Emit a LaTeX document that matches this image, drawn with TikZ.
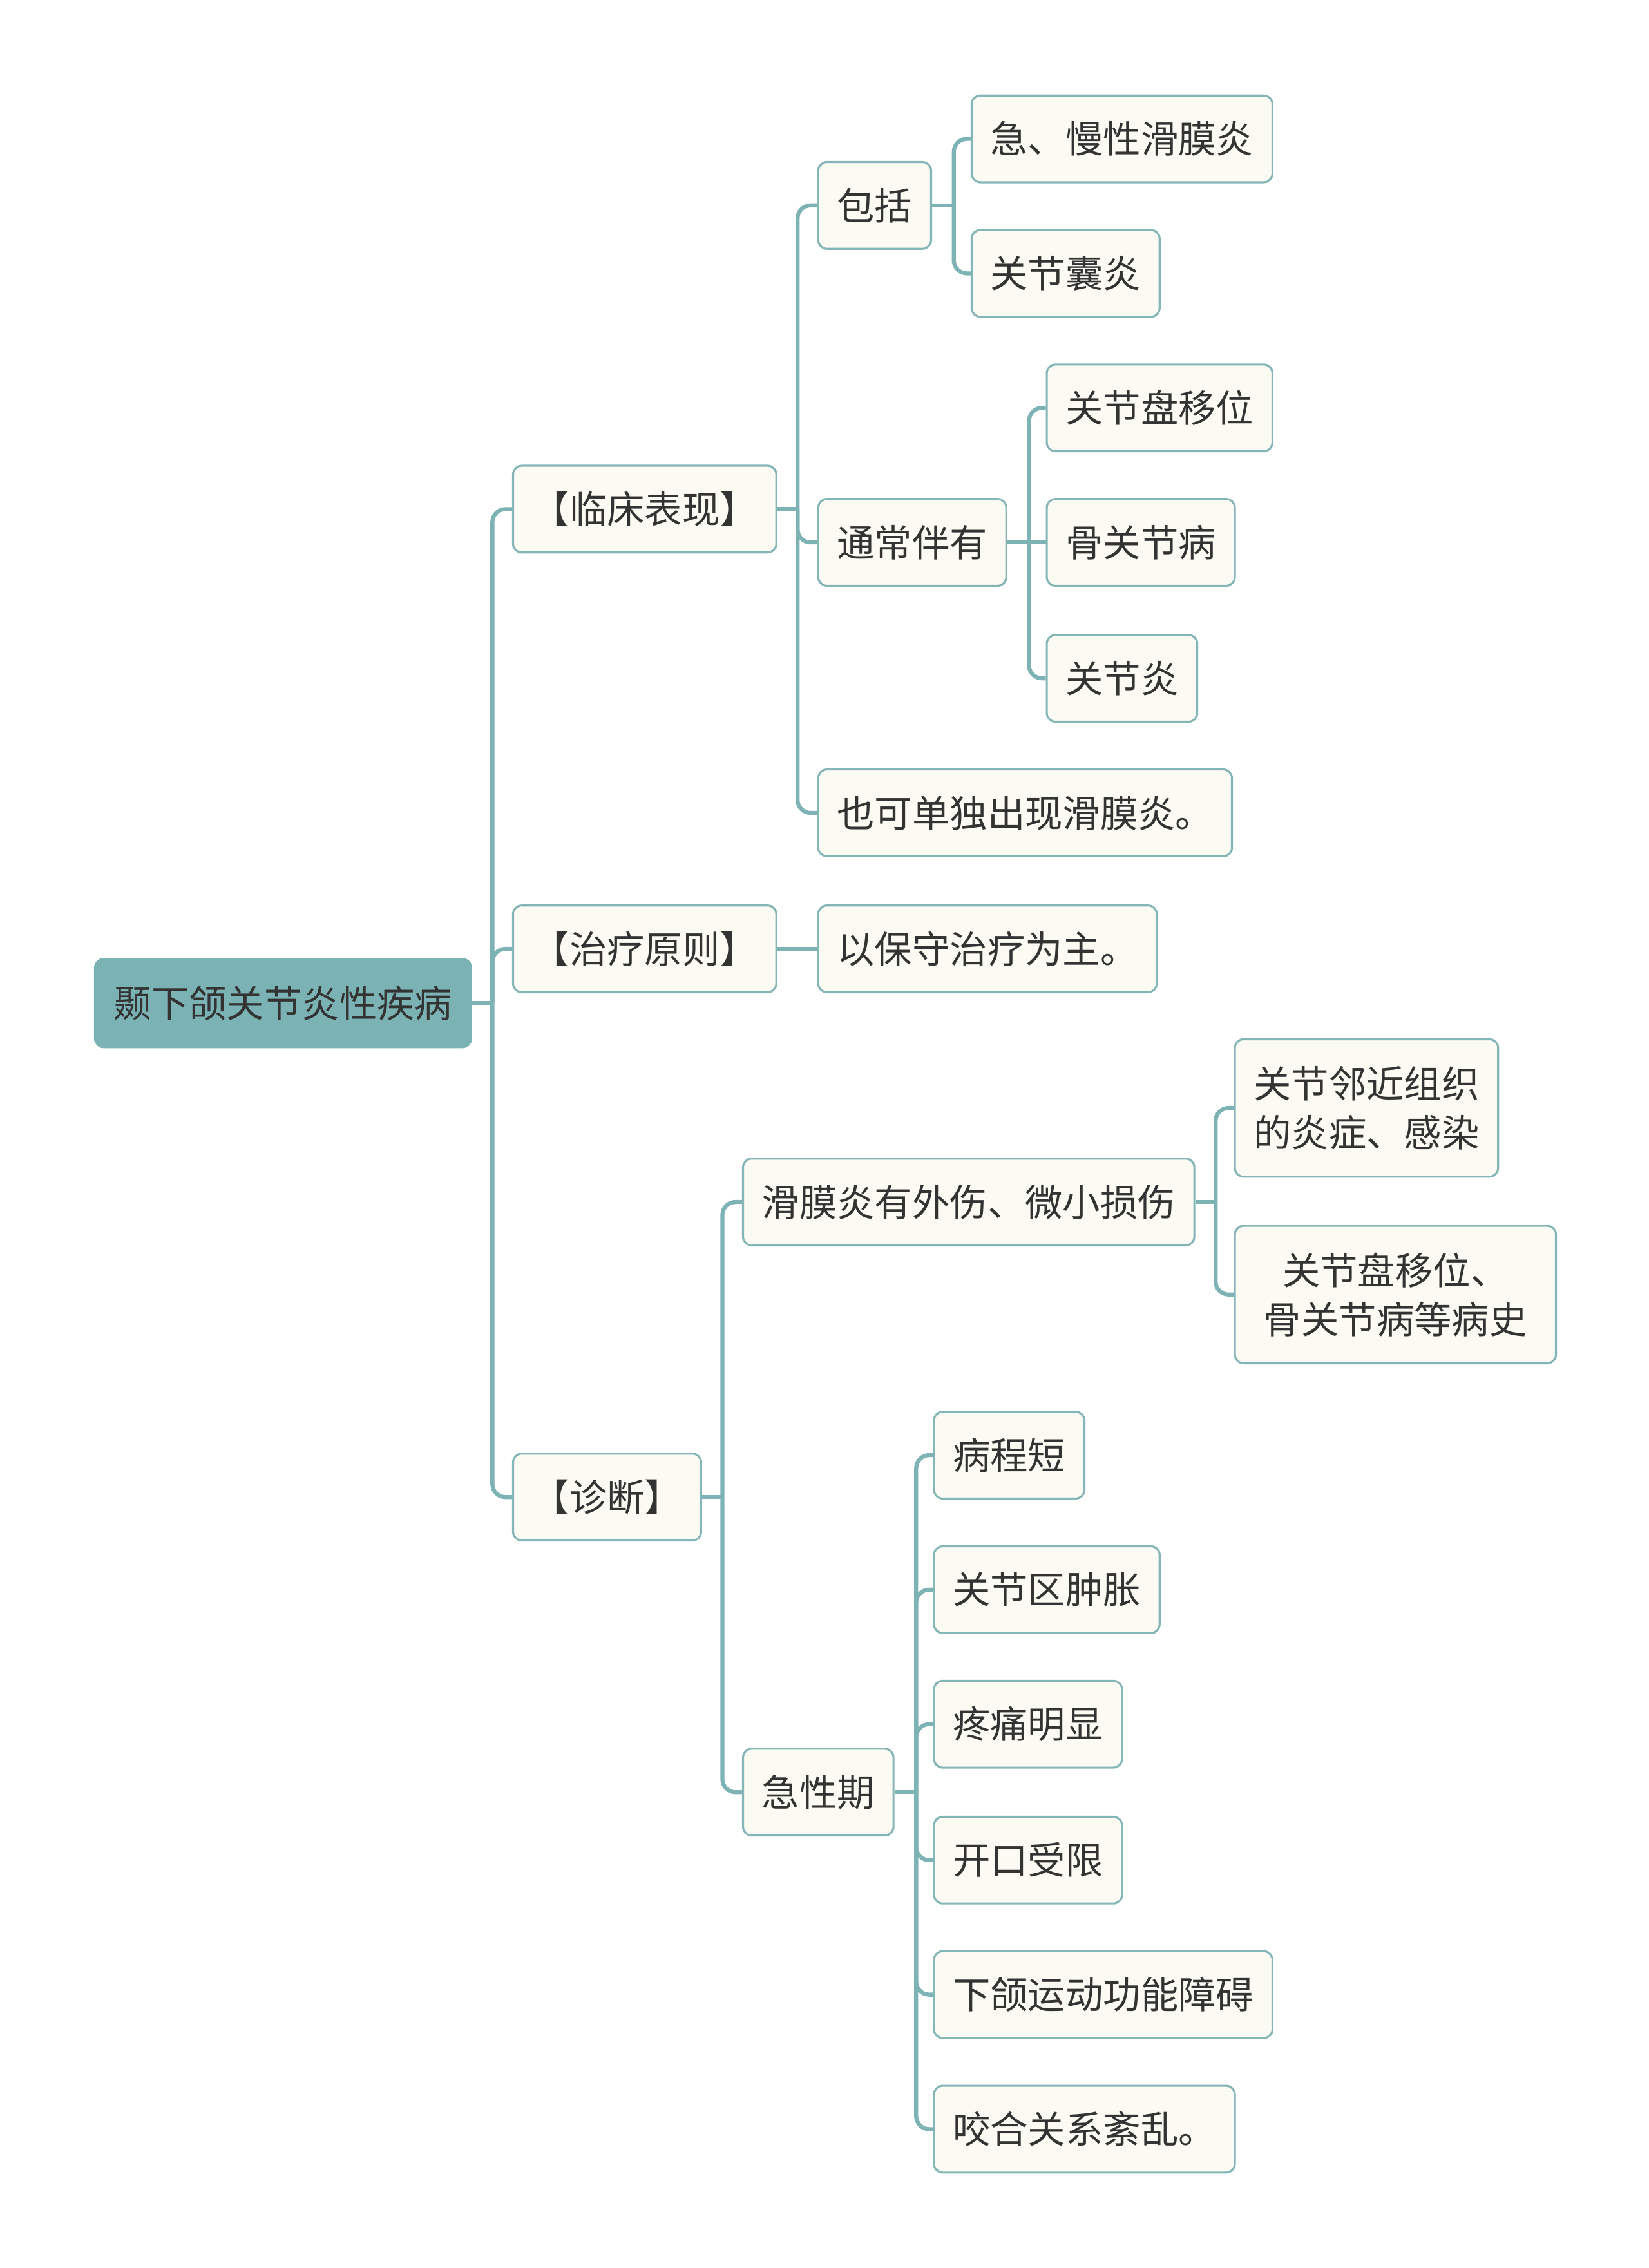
\documentclass[tikz,border=0pt]{standalone}
\usepackage{fontspec}
\setmainfont{Noto Sans CJK SC}
\definecolor{lineC}{HTML}{7DB3B5}
\definecolor{boxB}{HTML}{84B6B8}
\definecolor{cream}{HTML}{FCFBF3}
\definecolor{rootC}{HTML}{7BB3B5}
\definecolor{txt}{HTML}{333333}
\begin{document}
\begin{tikzpicture}[x=1pt,y=-1pt,
  box/.style={draw=boxB, line width=1.4pt, fill=cream, rounded corners=6pt,
    minimum height=60pt, inner xsep=13pt, inner ysep=0pt, anchor=west,
    font=\fontsize{26}{34}\selectfont, text=txt},
  rootbox/.style={box, fill=rootC, draw=rootC, minimum height=61pt},
  conn/.style={draw=lineC, line width=2.8pt, rounded corners=9pt}]
\useasboundingbox (0,0) rectangle (1140,1568);

% nodes
\node[rootbox] (r) at (65,693.5) {颞下颌关节炎性疾病};
\node[box] (lc) at (354,352) {【临床表现】};
\node[box] (zl) at (354,656) {【治疗原则】};
\node[box] (zd) at (354,1035) {【诊断】};
\node[box] (bk) at (565,142) {包括};
\node[box] (tc) at (565,375) {通常伴有};
\node[box] (yk) at (565,562) {也可单独出现滑膜炎。};
\node[box] (a1) at (671,96) {急、慢性滑膜炎};
\node[box] (a2) at (671,189) {关节囊炎};
\node[box] (b1) at (723,282) {关节盘移位};
\node[box] (b2) at (723,375) {骨关节病};
\node[box] (b3) at (723,469) {关节炎};
\node[box] (bs) at (565,656) {以保守治疗为主。};
\node[box] (hm) at (513,831) {滑膜炎有外伤、微小损伤};
\node[box] (jx) at (513,1239) {急性期};
\node[box, align=left, minimum height=95pt] (c1) at (853,766) {关节邻近组织\\的炎症、感染};
\node[box, align=center, text width=196pt, minimum height=95pt] (c2) at (853,895) {关节盘移位、\\骨关节病等病史};
\node[box] (d1) at (645,1006) {病程短};
\node[box] (d2) at (645,1099) {关节区肿胀};
\node[box] (d3) at (645,1192) {疼痛明显};
\node[box] (d4) at (645,1286) {开口受限};
\node[box] (d5) at (645,1379) {下颌运动功能障碍};
\node[box] (d6) at (645,1472) {咬合关系紊乱。};

% connectors
\draw[conn] (r.east) -- ++(14,0) coordinate (rj);
\draw[conn] (rj) |- (lc.west);
\draw[conn] (rj) |- (zl.west);
\draw[conn] (rj) |- (zd.west);

\draw[conn] (lc.east) -- ++(14,0) coordinate (lcj);
\draw[conn] (lcj) |- (bk.west);
\draw[conn] (lcj) |- (tc.west);
\draw[conn] (lcj) |- (yk.west);

\draw[conn] (bk.east) -- ++(15,0) coordinate (bkj);
\draw[conn] (bkj) |- (a1.west);
\draw[conn] (bkj) |- (a2.west);

\draw[conn] (tc.east) -- ++(15,0) coordinate (tcj);
\draw[conn] (tcj) |- (b1.west);
\draw[conn] (tcj) -- (b2.west);
\draw[conn] (tcj) |- (b3.west);

\draw[conn] (zl.east) -- (bs.west);

\draw[conn] (zd.east) -- ++(14,0) coordinate (zdj);
\draw[conn] (zdj) |- (hm.west);
\draw[conn] (zdj) |- (jx.west);

\draw[conn] (hm.east) -- ++(14,0) coordinate (hmj);
\draw[conn] (hmj) |- (c1.west);
\draw[conn] (hmj) |- (c2.west);

\draw[conn] (jx.east) -- ++(15,0) coordinate (jxj);
\draw[conn] (jxj) |- (d1.west);
\draw[conn] (jxj) |- (d2.west);
\draw[conn] (jxj) |- (d3.west);
\draw[conn] (jxj) |- (d4.west);
\draw[conn] (jxj) |- (d5.west);
\draw[conn] (jxj) |- (d6.west);
\end{tikzpicture}
\end{document}
